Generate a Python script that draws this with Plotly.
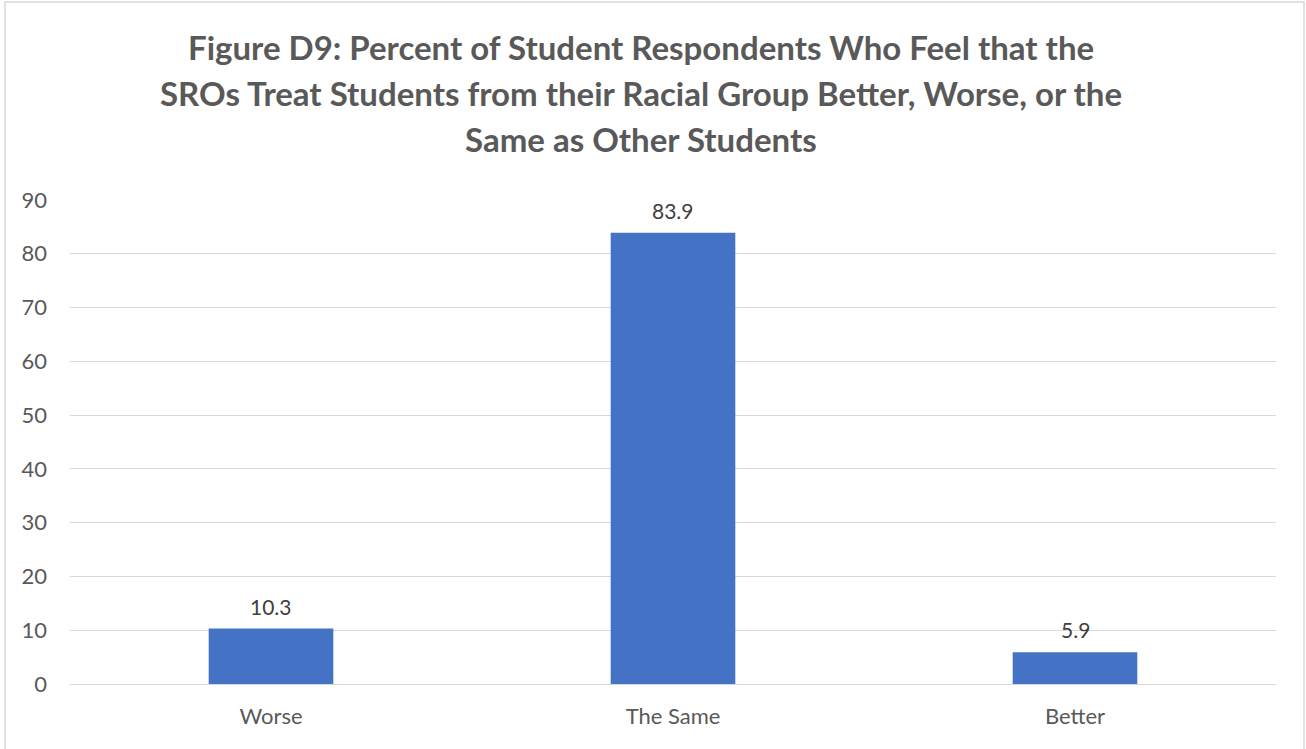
import plotly.graph_objects as go

categories = ["Worse", "The Same", "Better"]
values = [10.3, 83.9, 5.9]
title_lines = [
    "Figure D9: Percent of Student Respondents Who Feel that the",
    "SROs Treat Students from their Racial Group Better, Worse, or the",
    "Same as Other Students",
]
y_ticks = [0, 10, 20, 30, 40, 50, 60, 70, 80, 90]

W, H = 1306, 749
L, R, T, B = 70, 30, 200, 65
PW, PH = W - L - R, H - T - B

fig = go.Figure()
fig.add_trace(go.Bar(
    x=categories, y=values, marker=dict(color="#4472C4", line=dict(width=0)),
    width=0.31, hoverinfo="skip",
))

for c, v in zip(categories, values):
    fig.add_annotation(x=c, y=v, xref="x", yref="y", text=f"{v:.1f}",
                       showarrow=False, yanchor="bottom", yshift=8,
                       font=dict(family="Lato", size=21, color="#404040"))

title_y = [47, 93, 139]
for t, yy in zip(title_lines, title_y):
    fig.add_annotation(x=(641 - L) / PW, y=(H - B - yy) / PH, xref="paper", yref="paper",
                       text=f"<b>{t}</b>", showarrow=False,
                       xanchor="center", yanchor="middle",
                       font=dict(family="Lato", size=33, color="#595959"))

fig.update_layout(
    width=W, height=H,
    margin=dict(l=L, r=R, t=T, b=B, autoexpand=False),
    paper_bgcolor="white", plot_bgcolor="white",
    showlegend=False,
    font=dict(family="Lato", color="#595959"),
    shapes=[dict(type="rect", xref="paper", yref="paper",
                 x0=(5 - L) / PW, x1=(1304 - L) / PW,
                 y0=(H - B - 760) / PH, y1=(H - B - 2) / PH,
                 line=dict(color="#D9D9D9", width=1.5), layer="below")],
)
fig.update_yaxes(range=[0, 90], tickvals=y_ticks, showgrid=True, gridcolor="#D9D9D9",
                 gridwidth=1.3, zeroline=False, showline=False, ticks="",
                 tickfont=dict(family="Lato", size=22, color="#595959"),
                 ticklabelstandoff=22)
fig.update_xaxes(showgrid=False, showline=True, linecolor="#D9D9D9", linewidth=1.3,
                 ticks="", tickfont=dict(family="Lato", size=22, color="#595959"),
                 ticklabelstandoff=12)

fig.write_html("out.html", config={"displayModeBar": False},
               post_script="document.body.style.margin='0';")
